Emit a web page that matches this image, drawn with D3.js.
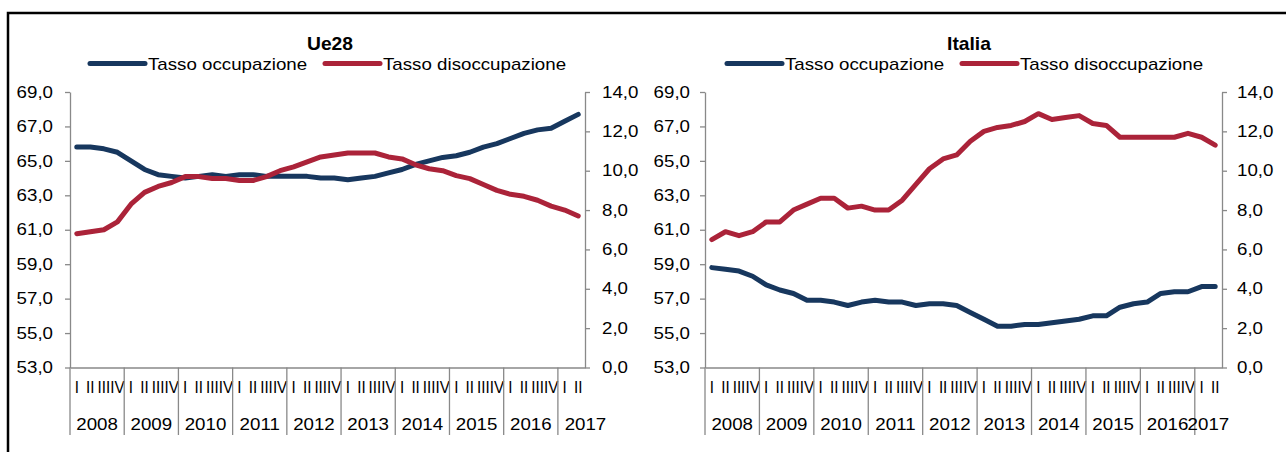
<!DOCTYPE html>
<html lang="it">
<head>
<meta charset="UTF-8">
<script src="https://d3js.org/d3.v7.min.js"></script>
<title>Ue28 / Italia</title>
<style>
  body { margin: 0; background: #fff; }
  svg text { font-family: "Liberation Sans", Arial, sans-serif; fill: #000; }
</style>
</head>
<body>
<svg id="chart" width="1286" height="452"></svg>
<script>
// categorie: trimestri 2008 Q1 - 2017 Q2
const years = ["2008", "2009", "2010", "2011", "2012", "2013", "2014", "2015", "2016", "2017"];
const quartersPerYear = [4, 4, 4, 4, 4, 4, 4, 4, 4, 2];
const quarterNames = ["I", "II", "III", "IV"];
const leftTicks = [53, 55, 57, 59, 61, 63, 65, 67, 69];
const rightTicks = [0, 2, 4, 6, 8, 10, 12, 14];

// Ue28
const ue28Occ = [65.8, 65.8, 65.7, 65.5, 65.0, 64.5, 64.2, 64.1, 64.0, 64.1, 64.2, 64.1,
  64.2, 64.2, 64.1, 64.1, 64.1, 64.1, 64.0, 64.0, 63.9, 64.0, 64.1, 64.3,
  64.5, 64.8, 65.0, 65.2, 65.3, 65.5, 65.8, 66.0, 66.3, 66.6, 66.8, 66.9, 67.3, 67.7];
const ue28Dis = [6.8, 6.9, 7.0, 7.4, 8.3, 8.9, 9.2, 9.4, 9.7, 9.7, 9.6, 9.6,
  9.5, 9.5, 9.7, 10.0, 10.2, 10.45, 10.7, 10.8, 10.9, 10.9, 10.9, 10.7,
  10.6, 10.3, 10.1, 10.0, 9.75, 9.6, 9.3, 9.0, 8.8, 8.7, 8.5, 8.2, 8.0, 7.7];

// Italia
const itaOcc = [58.8, 58.7, 58.6, 58.3, 57.8, 57.5, 57.3, 56.9, 56.9, 56.8, 56.6, 56.8,
  56.9, 56.8, 56.8, 56.6, 56.7, 56.7, 56.6, 56.2, 55.8, 55.4, 55.4, 55.5,
  55.5, 55.6, 55.7, 55.8, 56.0, 56.0, 56.5, 56.7, 56.8, 57.3, 57.4, 57.4, 57.7, 57.7];
const itaDis = [6.5, 6.9, 6.7, 6.9, 7.4, 7.4, 8.0, 8.3, 8.6, 8.6, 8.1, 8.2,
  8.0, 8.0, 8.5, 9.3, 10.1, 10.6, 10.8, 11.5, 12.0, 12.2, 12.3, 12.5,
  12.9, 12.6, 12.7, 12.8, 12.4, 12.3, 11.7, 11.7, 11.7, 11.7, 11.7, 11.9, 11.7, 11.3];

const seriesNames = ["Tasso occupazione", "Tasso disoccupazione"];
const colors = ["#17375e", "#ab2339"];

const quarterLabels = [];
const yearStart = [];
years.forEach((y, k) => {
  yearStart.push(quarterLabels.length);
  for (let q = 0; q < quartersPerYear[k]; q++) quarterLabels.push(quarterNames[q]);
});
const idx = quarterLabels.map((d, i) => i);

const SX = 1.17; // testo leggermente allargato come nell'originale
const plotTop = 92, plotBottom = 367.5;
const axisColor = "#898989";
const fmt = d => d3.format(".1f")(d).replace(".", ",");

const svg = d3.select("#chart");

// cornice
svg.append("path")
  .attr("d", "M8,452 L8,13 L1286,13")
  .attr("fill", "none")
  .attr("stroke", "#000")
  .attr("stroke-width", 2.5);

function stretch(sel, sx) {
  sel.each(function () {
    const t = d3.select(this);
    const x = +t.attr("x") || 0;
    const y = +t.attr("y") || 0;
    t.attr("x", 0).attr("y", 0)
      .attr("transform", "translate(" + x + "," + y + ") scale(" + (sx || SX) + ",1)");
  });
}

const charts = [
  { title: "Ue28", occ: ue28Occ, dis: ue28Dis, x0: 70, x1: 585, titleX: 330, legendX: 90, pad: 12, lastShift: 14 },
  { title: "Italia", occ: itaOcc, dis: itaDis, x0: 705, x1: 1222, titleX: 969, legendX: 727, pad: 10, lastShift: 0 }
];

charts.forEach(c => {
  const g = svg.append("g");

  const x = d3.scaleBand().domain(idx).range([c.x0, c.x1]).padding(0);
  const yL = d3.scaleLinear().domain([53, 69]).range([plotBottom, plotTop]);
  const yR = d3.scaleLinear().domain([0, 14]).range([plotBottom, plotTop]);

  // titolo
  g.append("text")
    .attr("x", c.titleX).attr("y", 50)
    .attr("text-anchor", "middle")
    .style("font-size", "17.5px").style("font-weight", "bold")
    .text(c.title)
    .call(stretch, 1.1);

  // legenda
  seriesNames.forEach((name, k) => {
    const lx = c.legendX + k * 235;
    g.append("line")
      .attr("x1", lx).attr("x2", lx + 55)
      .attr("y1", 63.5).attr("y2", 63.5)
      .attr("stroke", colors[k]).attr("stroke-width", 5)
      .attr("stroke-linecap", "round");
    g.append("text")
      .attr("x", lx + 58).attr("y", 69.5)
      .style("font-size", "16px")
      .text(name)
      .call(stretch);
  });

  // assi
  const axL = g.append("g")
    .attr("transform", "translate(" + c.x0 + ",0)")
    .call(d3.axisLeft(yL).tickValues(leftTicks).tickFormat(fmt)
      .tickSize(5).tickSizeOuter(0).tickPadding(c.pad));
  const axR = g.append("g")
    .attr("transform", "translate(" + c.x1 + ",0)")
    .call(d3.axisRight(yR).tickValues(rightTicks).tickFormat(fmt)
      .tickSize(5).tickSizeOuter(0).tickPadding(c.pad));
  const axX = g.append("g")
    .attr("transform", "translate(0," + plotBottom + ")")
    .call(d3.axisBottom(x).tickFormat(i => quarterLabels[i])
      .tickSize(0).tickSizeOuter(0).tickPadding(14));

  [axL, axR].forEach(a => {
    a.selectAll("text").style("font-size", "16px").call(stretch);
  });
  axX.selectAll("text").style("font-size", "16px").call(stretch, 0.95);
  [axL, axR, axX].forEach(a => {
    a.selectAll("path, line").attr("stroke", axisColor).attr("stroke-width", 1.3);
    a.selectAll("text").attr("fill", "#000");
    a.attr("font-family", null).attr("font-size", null);
  });

  // separatori e anni
  yearStart.forEach((s, k) => {
    const xs = x(s);
    g.append("line")
      .attr("x1", xs).attr("x2", xs)
      .attr("y1", plotBottom).attr("y2", 435)
      .attr("stroke", axisColor).attr("stroke-width", 1.3);
    const xe = x(s + quartersPerYear[k] - 1) + x.bandwidth();
    const shift = k === years.length - 1 ? c.lastShift : 0;
    g.append("text")
      .attr("x", (xs + xe) / 2 + shift).attr("y", 430)
      .attr("text-anchor", "middle")
      .style("font-size", "16px")
      .text(years[k])
      .call(stretch);
  });

  // linee
  const half = x.bandwidth() / 2;
  [[c.occ, yL], [c.dis, yR]].forEach(([vals, ys], k) => {
    g.append("path")
      .datum(vals)
      .attr("fill", "none")
      .attr("stroke", colors[k])
      .attr("stroke-width", 5)
      .attr("stroke-linejoin", "round")
      .attr("stroke-linecap", "round")
      .attr("d", d3.line().x((d, i) => x(i) + half).y(d => ys(d)));
  });
});
</script>
</body>
</html>
